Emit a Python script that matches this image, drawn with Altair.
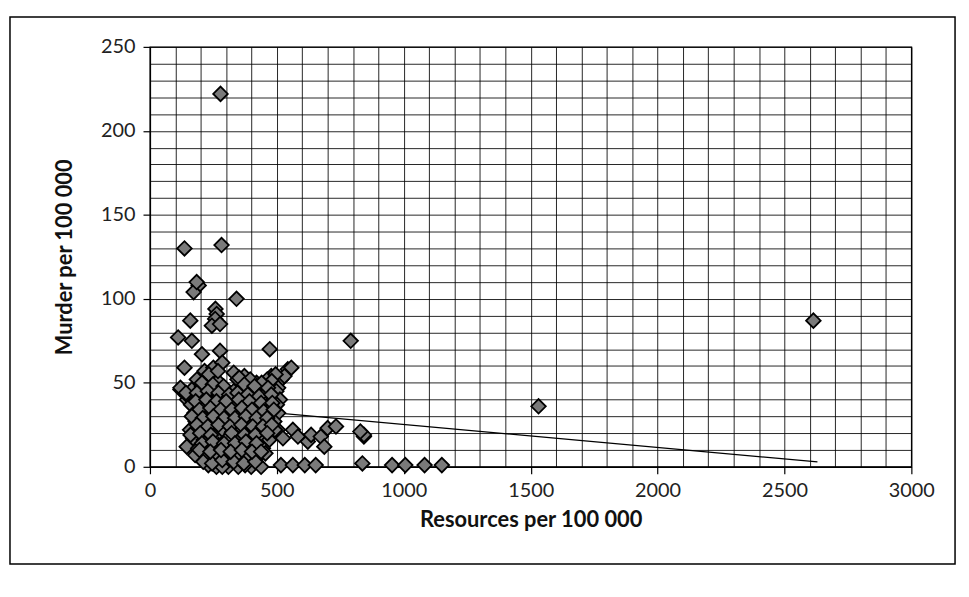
import altair as alt
import pandas as pd

# ---- scatter data (Resources per 100 000, Murder per 100 000) ----
resources = [
    # outliers / edge points
    278, 136, 282, 192, 172, 184, 341, 258, 263, 159, 257, 244, 276, 111, 165,
    472, 205, 276, 136, 543, 557, 517, 791, 1531, 2614, 120, 146, 478, 485, 485, 530,
    # bottom row
    262, 309, 348, 399, 438, 230, 285, 375, 516, 563, 610, 653, 843, 837, 954, 1006, 1082, 1150,
    # right arm
    504, 524, 563, 583, 622, 635, 673, 687, 700, 733, 843, 829,
    # dense cluster
    215, 250, 285, 330, 372, 420, 462, 495,
    185, 228, 268, 345, 392, 438, 480, 505,
    120, 165, 205, 248, 290, 330, 368, 410, 455, 498,
    150, 190, 232, 272, 318, 360, 400, 445, 488, 512,
    162, 200, 245, 285, 325, 415, 460, 500,
    175, 215, 258, 300, 385, 425, 470, 505,
    180, 222, 265, 310, 355, 395, 440, 490,
    158, 200, 240, 282, 325, 365, 410, 455, 492,
    170, 212, 255, 345, 390, 432, 470,
    145, 190, 232, 270, 315, 358, 400, 445,
    178, 220, 262, 305, 348, 385, 425, 455,
    210, 245, 285, 330, 370, 415,
    # staggered cluster points
    232, 268, 352, 395, 440,
    205, 248, 290, 372, 412, 465,
    142, 185, 228, 270, 312, 345, 385, 430, 478,
    180, 222, 262, 300, 350, 392, 438, 482,
    195, 238, 278, 322, 362, 402, 448, 488,
    165, 208, 250, 292, 335, 378, 420, 462,
    185, 228, 270, 315, 360, 405, 445, 480,
    160, 198, 240, 322, 372, 415, 462,
    205, 248, 292, 335, 378, 420,
    195, 238, 280, 318, 362, 402, 438,
]
murder = [
    222, 130, 132, 108, 104, 110, 100, 94, 91, 87, 88, 84, 85, 77, 75,
    70, 67, 69, 59, 58, 59, 52, 75, 36, 87, 46, 40, 54, 46, 36, 54,
    0, 0, 0, 0, 0, 1, 0, 1, 1, 1, 1, 1, 18, 2, 1, 1, 1, 1,
    22, 17, 22, 18, 15, 19, 18, 12, 23, 24, 19, 21,
    57, 59, 62, 56, 54, 50, 52, 55,
    52, 53, 51, 52, 50, 48, 51, 47,
    47, 46, 48, 47, 46, 45, 47, 46, 44, 45,
    42, 41, 43, 42, 41, 42, 40, 42, 41, 40,
    37, 38, 36, 37, 36, 37, 36, 37,
    32, 31, 33, 32, 31, 32, 31, 32,
    27, 28, 27, 26, 28, 27, 26, 27,
    22, 21, 23, 22, 21, 22, 23, 21, 22,
    17, 16, 18, 17, 16, 17, 16,
    12, 11, 12, 13, 11, 12, 13, 11,
    7, 8, 6, 7, 8, 7, 6, 8,
    3, 2, 4, 3, 2, 3,
    55, 57, 53, 52, 50,
    50, 49, 48, 49, 48, 47,
    44, 44, 45, 44, 43, 44, 43, 42, 43,
    39, 40, 39, 39, 40, 39, 38, 38,
    34, 35, 34, 34, 35, 34, 33, 34,
    30, 29, 30, 29, 29, 30, 29, 29,
    25, 24, 25, 24, 25, 24, 24, 25,
    19, 20, 19, 20, 19, 19, 20,
    14, 15, 14, 14, 15, 14,
    10, 9, 10, 9, 10, 9, 9,
]

# ---- straight trend line (two end points) ----
trend_x = [200, 2630]
trend_y = [36.2, 2.9]

pts = pd.DataFrame({"Resources": resources, "Murder": murder})
trend = pd.DataFrame({"Resources": trend_x, "Murder": trend_y})
frame = pd.DataFrame({"k": [0]})

FONT = "Lato"

x_scale = alt.Scale(domain=[0, 3000], nice=False, zero=False)
y_scale = alt.Scale(domain=[0, 250], nice=False, zero=False)

x_axis = alt.Axis(
    values=list(range(0, 3001, 100)),
    format="d",
    labelExpr="datum.value % 500 === 0 ? datum.label : ''",
    labelOverlap=False, labelFlush=False,
    tickOpacity={"condition": {"test": "datum.value % 500 === 0", "value": 1}, "value": 0},
    tickSize=7, tickColor="black", tickWidth=1.2,
    grid=True, gridColor="black", gridWidth=1, gridOpacity=0.85,
    domain=True, domainColor="black", domainWidth=1.3,
    title="Resources per 100 000", titleFont=FONT, titleFontSize=22,
    titleFontWeight="bold", titleColor="#111", titlePadding=9,
    labelFont=FONT, labelFontSize=20, labelColor="#222", labelPadding=7,
)
y_axis = alt.Axis(
    values=list(range(0, 251, 10)),
    format="d",
    labelExpr="datum.value % 50 === 0 ? datum.label : ''",
    labelOverlap=False, labelFlush=False,
    tickOpacity={"condition": {"test": "datum.value % 50 === 0", "value": 1}, "value": 0},
    tickSize=7, tickColor="black", tickWidth=1.2,
    grid=True, gridColor="black", gridWidth=1, gridOpacity=0.85,
    domain=True, domainColor="black", domainWidth=1.3,
    title="Murder per 100 000", titleFont=FONT, titleFontSize=22,
    titleFontWeight="bold", titleColor="#111", titlePadding=24,
    labelFont=FONT, labelFontSize=20, labelColor="#222", labelPadding=8,
)

X = alt.X("Resources:Q", scale=x_scale, axis=x_axis)
Y = alt.Y("Murder:Q", scale=y_scale, axis=y_axis)

line = alt.Chart(trend).mark_line(color="black", strokeWidth=1.2).encode(x=X, y=Y)

points = alt.Chart(pts).mark_point(
    shape="diamond", size=215, filled=True, fill="#7a7a7a",
    stroke="black", strokeWidth=1.8, opacity=1,
).encode(x=X, y=Y)

border = alt.Chart(frame).mark_rect(
    fill="white", fillOpacity=0, stroke="black", strokeWidth=1.5
).encode(
    x=alt.value(-141), x2=alt.value(811), y=alt.value(-30), y2=alt.value(521)
)

chart = alt.layer(line, points, border).properties(
    width=767, height=423,
    autosize=alt.AutoSizeParams(type="none"),
    padding={"left": 143, "top": 37, "right": 50, "bottom": 129},
    background="white",
).configure_view(stroke="black", strokeWidth=1.3)

chart.save("out.html", embed_options={"renderer": "svg", "actions": False})
